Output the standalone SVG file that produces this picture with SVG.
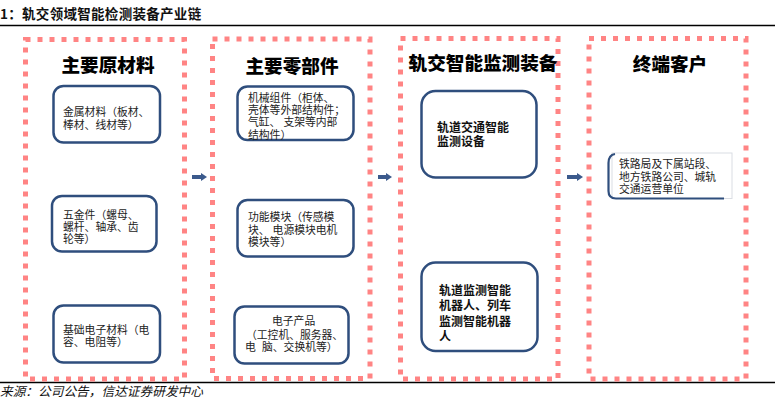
<svg xmlns="http://www.w3.org/2000/svg" width="775" height="403" viewBox="0 0 775 403">
<style>
.dot{fill:none;stroke:#FF8484;stroke-width:5;stroke-dasharray:5 7}
.box{fill:#fff;stroke:#2F4E7D;stroke-width:2.5}
.hd{font-family:"Noto Sans CJK SC",sans-serif;font-weight:900;font-size:18.6px;fill:#000;text-anchor:middle}
.t{font-family:"Liberation Sans","Noto Sans CJK SC",sans-serif;font-size:10.8px;fill:#222}
.tb{font-family:"Liberation Sans","Noto Sans CJK SC",sans-serif;font-size:12px;font-weight:bold;fill:#111}
.arr{fill:#3B5A8C}
</style>
<rect width="775" height="403" fill="#fff"/>
<text x="0" y="19" font-family="'Noto Sans CJK SC',sans-serif" font-size="13.5" font-weight="bold" letter-spacing="0.3" fill="#111">1：轨交领域智能检测装备产业链</text>
<line x1="0" y1="25.5" x2="775" y2="25.5" stroke="#000" stroke-width="1.5"/>
<line x1="0" y1="382.5" x2="775" y2="382.5" stroke="#000" stroke-width="1.5"/>
<text x="0" y="396" font-family="'Noto Sans CJK SC',sans-serif" font-size="12.7" font-style="italic" fill="#111">来源：公司公告，信达证券研发中心</text>

<g id="col1">
<rect class="dot" x="25.5" y="39.5" width="159" height="339.5"/>
<text class="hd" x="108" y="72">主要原材料</text>
</g>
<g id="col2">
<rect class="dot" x="212.5" y="39" width="157.5" height="339.5"/>
<text class="hd" x="292" y="73">主要零部件</text>
</g>
<g id="col3">
<rect class="dot" x="400.5" y="38.5" width="157.5" height="340.5"/>
<text class="hd" x="483" y="70">轨交智能监测装备</text>
</g>
<g id="col4">
<rect class="dot" x="589" y="38.5" width="157" height="340.5"/>
<text class="hd" x="670" y="71">终端客户</text>
</g>

<g id="n1a">
<rect class="box" x="53.5" y="86" width="106.5" height="56.5" rx="10"/>
<text class="t" x="63" y="116">金属材料（板材、<tspan x="63" dy="12.5">棒材、线材等）</tspan></text>
</g>
<g id="n1b">
<rect class="box" x="52" y="196" width="104.5" height="55.5" rx="10"/>
<text class="t" x="63" y="219">五金件（螺母、<tspan x="63" dy="12.2">螺杆、轴承、齿</tspan><tspan x="63" dy="12.2">轮等）</tspan></text>
</g>
<g id="n1c">
<rect class="box" x="53.5" y="305.5" width="106.5" height="57" rx="10"/>
<text class="t" x="63" y="334">基础电子材料（电<tspan x="63" dy="12.2">容、电阻等）</tspan></text>
</g>

<g id="n2a">
<rect class="box" x="237.5" y="86.5" width="116" height="53.5" rx="10"/>
<text class="t" x="248" y="102">机械组件（柜体、<tspan x="248" dy="12.2">壳体等外部结构件；</tspan><tspan x="248" dy="12.2">气缸、 支架等内部</tspan><tspan x="248" dy="12.2">结构件）</tspan></text>
</g>
<g id="n2b">
<rect class="box" x="237.5" y="200" width="116" height="56.5" rx="10"/>
<text class="t" x="248" y="221">功能模块（传感模<tspan x="248" dy="12.5">块、 电源模块电机</tspan><tspan x="248" dy="12.5">模块等）</tspan></text>
</g>
<g id="n2c">
<rect class="box" x="234.5" y="306.5" width="114" height="57" rx="10"/>
<text class="t" x="272" y="325">电子产品<tspan x="246" dy="14">（工控机、服务器、</tspan><tspan x="245" dy="12.2">电</tspan><tspan x="262" dy="0">脑、交换机等）</tspan></text>
</g>

<g id="n3a">
<rect class="box" x="421.5" y="91" width="115" height="86.5" rx="14"/>
<text class="tb" x="437" y="132">轨道交通智能<tspan x="437" dy="14">监测设备</tspan></text>
</g>
<g id="n3b">
<rect class="box" x="421.5" y="262.5" width="116" height="88.5" rx="14"/>
<text class="tb" x="439" y="295">轨道监测智能<tspan x="439" dy="15.4">机器人、列车</tspan><tspan x="439" dy="15.4">监测智能机器</tspan><tspan x="439" dy="15.4">人</tspan></text>
</g>

<g id="n4a">
<rect x="612" y="153" width="120" height="45.5" fill="#fff" stroke="#DADDE3" stroke-width="1"/>
<path d="M615,154 Q608.5,155 608.5,163 L608.5,191 Q608.5,198.5 616,198.5 L724,198.5" fill="none" stroke="#2F4E7D" stroke-width="2.2"/>
<text class="t" x="619" y="168">铁路局及下属站段、<tspan x="619" dy="12.5">地方铁路公司、城轨</tspan><tspan x="619" dy="12.5">交通运营单位</tspan></text>
</g>

<g id="connectors">
<polygon class="arr" points="192,175 201,175 201,173 207,177 201,181 201,179 192,179"/>
<polygon class="arr" points="378,175 386,175 386,173 392,177 386,181 386,179 378,179"/>
<polygon class="arr" points="567,175 577,175 577,173 583,177 577,181 577,179 567,179"/>
</g>
</svg>
